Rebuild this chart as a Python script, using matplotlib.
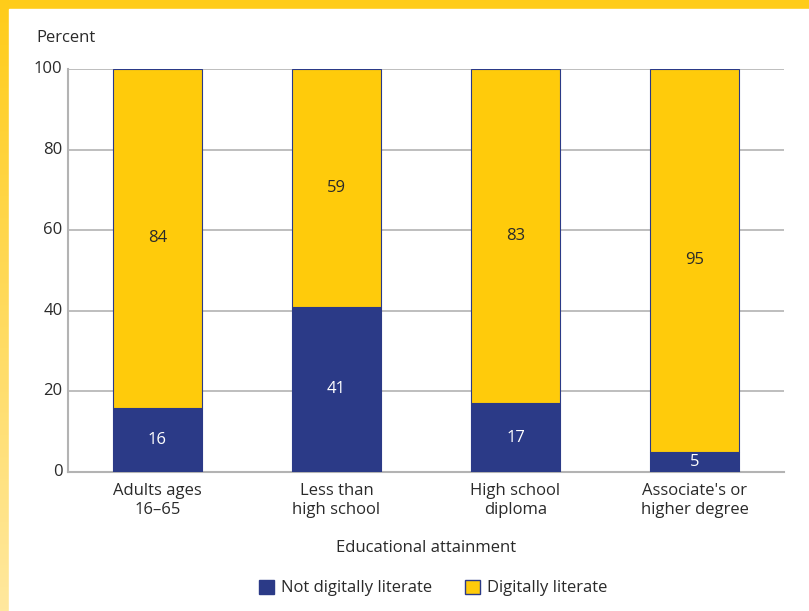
import numpy as np
import matplotlib
matplotlib.use("Agg")
import matplotlib.pyplot as plt
from matplotlib.patches import Rectangle

plt.rcParams["font.family"] = ["Open Sans", "DejaVu Sans"]

categories = ["Adults ages\n16\u201365", "Less than\nhigh school",
              "High school\ndiploma", "Associate's or\nhigher degree"]
not_literate = [16, 41, 17, 5]
literate = [84, 59, 83, 95]

NAVY = "#2B3A87"
GOLD = "#FFCB0B"
TXT = "#2a2a2a"
GRID = "#b3b3b3"
FS = 12

W, H = 809, 611
fig = plt.figure(figsize=(W / 100, H / 100), dpi=100)

# yellow frame (gradient on the left edge) with white panel
bg = fig.add_axes([0, 0, 1, 1], zorder=-10)
bg.set_axis_off()
grad = np.linspace(0, 1, 256).reshape(-1, 1)
top = np.array([1.0, 0.80, 0.10])
bot = np.array([1.0, 0.91, 0.62])
img = (top + (bot - top) * grad[..., None]).reshape(256, 1, 3)
bg.imshow(img, aspect="auto", extent=[0, 1, 0, 1], origin="upper")
bg.add_patch(Rectangle((9 / W, 0), 1, 1 - 9 / H, color="white",
                       transform=bg.transAxes))
bg.set_xlim(0, 1); bg.set_ylim(0, 1)

ax = fig.add_axes([68 / W, 1 - 472 / H, (784 - 68) / W, (472 - 69) / H])
x = np.arange(len(categories))
ax.bar(x, not_literate, width=0.5, color=NAVY, edgecolor=NAVY, lw=0.8, zorder=3)
ax.bar(x, literate, width=0.5, bottom=not_literate, color=GOLD,
       edgecolor=NAVY, lw=0.8, zorder=3)

for i in range(len(categories)):
    ax.text(x[i], not_literate[i] / 2, str(not_literate[i]), ha="center",
            va="center", color="white", fontsize=FS, zorder=4)
    ax.text(x[i], not_literate[i] + literate[i] / 2, str(literate[i]),
            ha="center", va="center", color=TXT, fontsize=FS, zorder=4)

ax.set_xlim(-0.5, 3.5)
ax.set_ylim(0, 100)
ax.set_yticks([0, 20, 40, 60, 80, 100])
ax.yaxis.grid(True, color=GRID, lw=1.2)
ax.set_axisbelow(True)
for s in ["top", "right"]:
    ax.spines[s].set_visible(False)
for s in ["left", "bottom"]:
    ax.spines[s].set_color(GRID)
    ax.spines[s].set_linewidth(1.5)
ax.tick_params(axis="both", length=0, labelsize=FS, colors=TXT)
ax.tick_params(axis="y", pad=4)
ax.set_xticks(x)
ax.set_xticklabels(categories, linespacing=1.25)
ax.tick_params(axis="x", pad=8)
for t in ax.get_yticklabels():
    t.set_va("center")
    t.set_y(t.get_position()[1])

fig.text(36 / W, 1 - 38 / H, "Percent", fontsize=FS, color=TXT,
         ha="left", va="center")
fig.text(426 / W, 1 - 548 / H, "Educational attainment", fontsize=FS,
         color=TXT, ha="center", va="center")

h1 = Rectangle((0, 0), 1, 1, facecolor=NAVY, edgecolor=NAVY)
h2 = Rectangle((0, 0), 1, 1, facecolor=GOLD, edgecolor=NAVY)
fig.legend([h1, h2], ["Not digitally literate", "Digitally literate"],
           loc="center", bbox_to_anchor=(433 / W, 1 - 588 / H), ncol=2,
           frameon=False, fontsize=FS, handlelength=0.9, handleheight=0.9,
           handletextpad=0.4, columnspacing=2.0, labelcolor=TXT)

fig.savefig("out.png", dpi=100)
